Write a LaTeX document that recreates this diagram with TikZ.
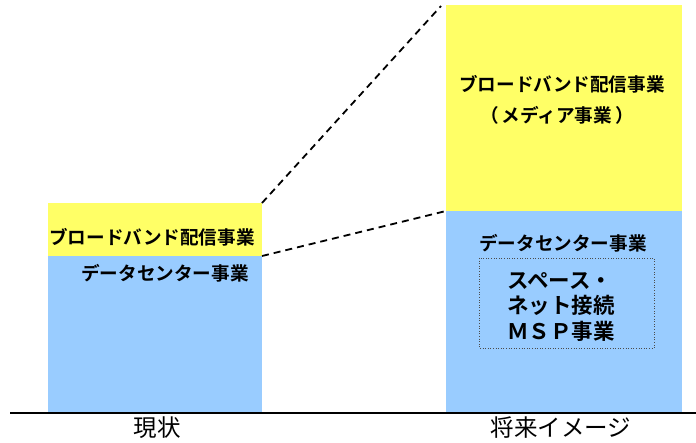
\documentclass[tikz,border=0pt]{standalone}
\usepackage{fontspec}
\setmainfont{Noto Sans CJK JP}[BoldFont={Noto Sans CJK JP Bold}]
\definecolor{barY}{HTML}{FFFF66}
\definecolor{barB}{HTML}{99CCFF}
\begin{document}
\begin{tikzpicture}[x=1pt,y=-1pt,
  ybar/.style={fill=barY,draw=none},
  bbar/.style={fill=barB,draw=none},
  lbl/.style={font=\bfseries\fontsize{18.6}{21}\selectfont,inner sep=0pt},
  cat/.style={font=\fontsize{23.5}{26}\selectfont,inner sep=0pt},
  guide/.style={line width=1.8pt,dash pattern=on 7pt off 5pt}]
\useasboundingbox (0,0) rectangle (696,443);
% left bar
\fill[bbar] (48,256) rectangle (262,412);
\fill[ybar] (48,203) rectangle (262,256);
\coordinate (lt) at (262,203);
\coordinate (lm) at (262,256);
% right bar
\fill[bbar] (446,211) rectangle (682,412);
\fill[ybar] (446,5) rectangle (682,211);
\coordinate (rt) at (441,6);
\coordinate (rm) at (446,211);
% dashed guides
\draw[guide] (lt) -- (rt);
\draw[guide] (lm) -- (rm);
% baseline
\coordinate (b0) at (10,413);
\coordinate (b1) at (696,413);
\draw[line width=1.5pt] (b0) -- (b1);
% labels left
\node[lbl] (l1) at (152,237) {ブロードバンド配信事業};
\node[lbl] (l2) at (165,273) {データセンター事業};
% labels right
\node[lbl] (r1) at (562,84) {ブロードバンド配信事業};
\node[lbl] (r2) at (557,115) {（\,メディア事業\,）};
\node[lbl] (r3) at (563,243) {データセンター事業};
\draw[dotted,draw=black!70,line width=0.6pt] (479,258) rectangle (654,348);
\node[lbl,font=\bfseries\fontsize{21.5}{25.5}\selectfont,align=left,anchor=north west] (r4) at (507,272) {スペース・\\ネット接続\\ＭＳＰ事業};
% categories
\node[cat] (c1) at (157,428) {現状};
\node[cat] (c2) at (561,428) {将来イメージ};
\end{tikzpicture}
\end{document}
